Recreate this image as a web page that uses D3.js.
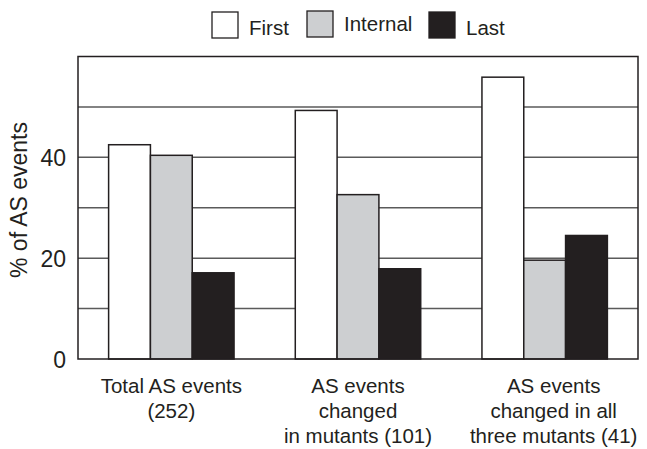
<!DOCTYPE html>
<html><head><meta charset="utf-8">
<script src="https://cdn.jsdelivr.net/npm/d3@7"></script>
<style>body{margin:0;background:#fff}svg{display:block}text{font-family:"Liberation Sans",Arial,sans-serif;fill:#231f20}</style>
</head><body><svg id="c" width="647" height="449"></svg>
<script>
const categories = [["Total AS events","(252)"],["AS events","changed","in mutants (101)"],["AS events","changed in all","three mutants (41)"]];
const seriesNames = ["First","Internal","Last"];
const first = [42.5, 49.3, 55.9];
const internal = [40.4, 32.6, 19.6];
const last = [17.1, 17.9, 24.5];
const yTicks = [0,20,40];
const gridTicks = [10,20,30,40,50];
const colors = ["#ffffff","#cdcfd1","#231f20"];

const svg = d3.select("#c");
const m = {l:78, r:638, t:56.5, b:359};
const x = d3.scaleBand().domain(d3.range(categories.length)).range([m.l, m.r]).paddingInner(0.328).paddingOuter(0.164);
const y = d3.scaleLinear().domain([0,60]).range([m.b, m.t]);
const xs = d3.scaleBand().domain(seriesNames).range([0, x.bandwidth()]);

// grid
svg.append("g").selectAll("line").data(gridTicks).join("line")
  .attr("x1",m.l).attr("x2",m.r).attr("y1",d=>y(d)).attr("y2",d=>y(d))
  .attr("stroke","#5a5a5a").attr("stroke-width",1.5);

const data = [first, internal, last];
const g = svg.append("g");
categories.forEach((c,i)=>{
  seriesNames.forEach((s,j)=>{
    g.append("rect").attr("x", x(i)+xs(s)).attr("y", y(data[j][i]))
     .attr("width", xs.bandwidth()).attr("height", y(0)-y(data[j][i]))
     .attr("fill", colors[j]).attr("stroke","#231f20").attr("stroke-width",1.5);
  });
});

// frame
svg.append("rect").attr("x",m.l).attr("y",m.t).attr("width",m.r-m.l).attr("height",m.b-m.t)
  .attr("fill","none").attr("stroke","#231f20").attr("stroke-width",1.5);

// y axis labels
const yAxis = d3.axisLeft(y).tickValues(yTicks).tickSize(0).tickPadding(12);
const ya = svg.append("g").attr("transform",`translate(${m.l},0)`).call(yAxis);
ya.select(".domain").remove();
ya.selectAll("text").style("font-size","23px").attr("fill","#231f20").attr("font-family","Liberation Sans, Arial, sans-serif").attr("dy","0.36em");

svg.append("text").attr("transform","translate(27,200) rotate(-90)").attr("text-anchor","middle")
  .style("font-size","23px").text("% of AS events");

// category labels
const labelShift = i => i===categories.length-1 ? 9 : 0;
categories.forEach((lines,i)=>{
  const t = svg.append("text").attr("text-anchor","middle").style("font-size","20.5px");
  lines.forEach((ln,k)=>{
    t.append("tspan").attr("x", x(i)+x.bandwidth()/2+labelShift(i)).attr("y", 393+k*25).text(ln);
  });
});

// legend
const legX = [212, 307, 429];
const leg = svg.append("g");
seriesNames.forEach((s,j)=>{
  leg.append("rect").attr("x",legX[j]).attr("y",j===1?11:12).attr("width",26).attr("height",26)
    .attr("fill",colors[j]).attr("stroke","#231f20").attr("stroke-width",1.3);
  leg.append("text").attr("x",legX[j]+37).attr("y",j===1?31:35).style("font-size","20.5px").text(s);
});
</script></body></html>
